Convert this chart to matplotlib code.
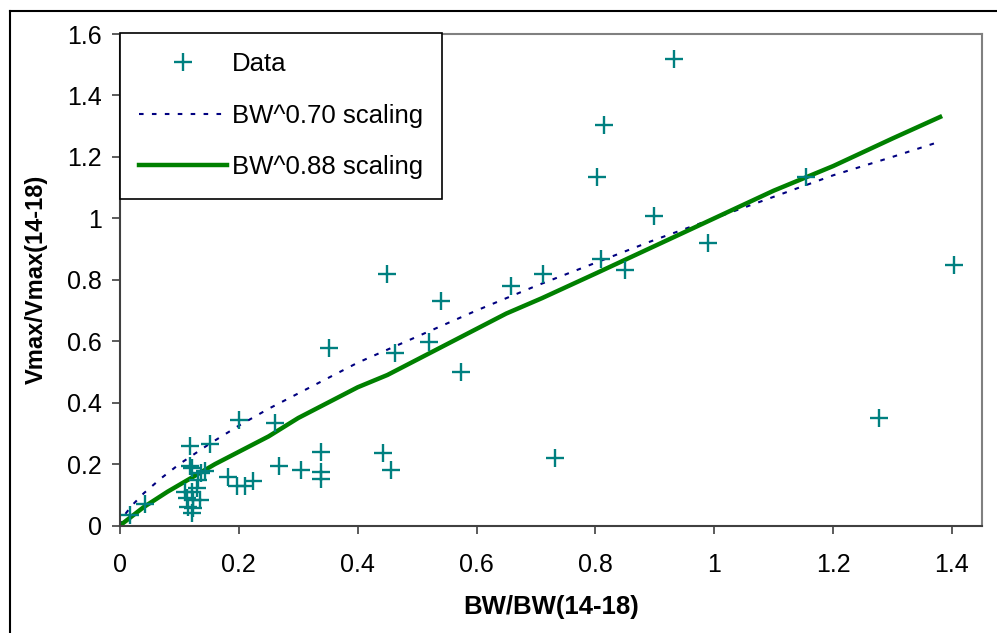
import matplotlib
matplotlib.use("Agg")
import matplotlib.pyplot as plt
from matplotlib.lines import Line2D

plt.rcParams['font.family'] = ['Liberation Sans', 'DejaVu Sans']

# scatter data
bw = [0.017, 0.042, 0.117, 0.151, 0.117, 0.143, 0.121, 0.137, 0.132, 0.109,
      0.121, 0.129, 0.112, 0.123, 0.135, 0.115, 0.123, 0.121, 0.181, 0.197,
      0.210, 0.223, 0.200, 0.261, 0.268, 0.304, 0.338, 0.338, 0.338, 0.352,
      0.442, 0.456, 0.450, 0.540, 0.463, 0.520, 0.574, 0.658, 0.711, 0.732,
      0.809, 0.849, 0.802, 0.815, 0.932, 0.899, 0.990, 1.154, 1.278, 1.403]
vmax = [0.034, 0.070, 0.259, 0.265, 0.194, 0.178, 0.186, 0.170, 0.148, 0.110,
        0.110, 0.121, 0.089, 0.083, 0.083, 0.061, 0.056, 0.040, 0.157, 0.127,
        0.130, 0.145, 0.344, 0.335, 0.194, 0.181, 0.240, 0.175, 0.150, 0.578,
        0.235, 0.181, 0.818, 0.732, 0.563, 0.597, 0.499, 0.780, 0.818, 0.220,
        0.867, 0.832, 1.136, 1.305, 1.519, 1.006, 0.921, 1.136, 0.350, 0.849]

# BW^0.70 curve
x70 = [0, 0.01, 0.02, 0.04, 0.07, 0.10, 0.15, 0.20, 0.25, 0.30, 0.40, 0.50,
       0.60, 0.70, 0.80, 0.90, 1.00, 1.10, 1.20, 1.30, 1.38]
y70 = [0, 0.04, 0.065, 0.105, 0.155, 0.20, 0.265, 0.325, 0.38, 0.43, 0.53, 0.615,
       0.70, 0.78, 0.855, 0.93, 1.00, 1.07, 1.14, 1.20, 1.25]

# BW^0.88 curve
x88 = [0, 0.04, 0.08, 0.12, 0.16, 0.20, 0.25, 0.30, 0.35, 0.40, 0.45, 0.50,
       0.58, 0.65, 0.71, 0.80, 0.90, 1.00, 1.10, 1.20, 1.30, 1.38]
y88 = [0, 0.06, 0.11, 0.155, 0.20, 0.24, 0.29, 0.35, 0.40, 0.45, 0.49, 0.54,
       0.62, 0.69, 0.74, 0.82, 0.91, 1.00, 1.09, 1.17, 1.26, 1.33]

xticks = [0, 0.2, 0.4, 0.6, 0.8, 1.0, 1.2, 1.4]
xtick_labels = ['0', '0.2', '0.4', '0.6', '0.8', '1', '1.2', '1.4']
yticks = [0, 0.2, 0.4, 0.6, 0.8, 1.0, 1.2, 1.4, 1.6]
ytick_labels = ['0', '0.2', '0.4', '0.6', '0.8', '1', '1.2', '1.4', '1.6']

fig = plt.figure(figsize=(9.97, 6.33), dpi=100)
ax = fig.add_axes([120/997, 1-525.5/633, 861.7/997, 491.5/633])

ax.plot(bw, vmax, linestyle='none', marker='+', markersize=13.5,
        markeredgewidth=1.7, color='#008080', label='Data', zorder=3)
ax.plot(x70, y70, color='#000080', linewidth=1.5, dashes=(2.2, 4.0),
        label='BW^0.70 scaling', zorder=2)
ax.plot(x88, y88, color='#008000', linewidth=3.2, label='BW^0.88 scaling',
        zorder=2, solid_joinstyle='round')

ax.set_xlim(0, 1.45)
ax.set_ylim(0, 1.6)
ax.set_xticks(xticks)
ax.set_xticklabels(xtick_labels)
ax.set_yticks(yticks)
ax.set_yticklabels(ytick_labels)
ax.tick_params(axis='both', direction='out', length=6, width=1.2,
               color='#404040', labelsize=18)
ax.tick_params(axis='x', pad=14)
ax.tick_params(axis='y', pad=7)

for s in ['left', 'bottom']:
    ax.spines[s].set_color('#404040')
    ax.spines[s].set_linewidth(1.5)
for s in ['top', 'right']:
    ax.spines[s].set_color('#808080')
    ax.spines[s].set_linewidth(1.5)

ax.set_xlabel('BW/BW(14-18)', fontsize=18.5, fontweight='bold', labelpad=13)
ax.set_ylabel('Vmax/Vmax(14-18)', fontsize=17, fontweight='bold', labelpad=14)

leg = ax.legend(loc='upper left', bbox_to_anchor=(0, 1.002), borderaxespad=0,
                fontsize=18.5, frameon=True, fancybox=False, edgecolor='black',
                framealpha=1, handlelength=3.4, handletextpad=0.2,
                labelspacing=1.07, borderpad=0.75)
leg.get_frame().set_linewidth(1.2)

# outer chart border (cropped at right and bottom)
fig.add_artist(Line2D([10/997, 10/997], [0, 1-11/633], color='black', linewidth=1.5))
fig.add_artist(Line2D([10/997, 1], [1-11/633, 1-11/633], color='black', linewidth=1.5))

fig.savefig('out.png', dpi=100)
